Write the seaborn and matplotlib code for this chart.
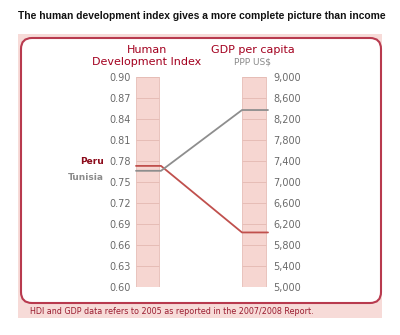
import matplotlib
matplotlib.use("Agg")
import matplotlib.pyplot as plt
from matplotlib.patches import FancyBboxPatch, Rectangle
import numpy as np
import pandas as pd
import seaborn as sns

# ---- data ----
countries = ["Peru", "Tunisia"]
hdi_values = [0.773, 0.766]
gdp_values = [6039, 8371]
hdi_ticks = [0.60, 0.63, 0.66, 0.69, 0.72, 0.75, 0.78, 0.81, 0.84, 0.87, 0.90]
gdp_ticks = [5000, 5400, 5800, 6200, 6600, 7000, 7400, 7800, 8200, 8600, 9000]
title = "The human development index gives a more complete picture than income"
footer = "HDI and GDP data refers to 2005 as reported in the 2007/2008 Report."

sns.set_theme(style="white")
plt.rcParams['font.family'] = ['DejaVu Sans']

W, H = 400, 335
fig = plt.figure(figsize=(W / 100, H / 100), dpi=100)
fig.patch.set_facecolor("white")

# background decoration axes in pixel coordinates
bg = fig.add_axes([0, 0, 1, 1])
bg.set_xlim(0, W)
bg.set_ylim(H, 0)
bg.axis("off")
bg.add_patch(Rectangle((18, 34), 364, 284, facecolor="#f7dbd8", edgecolor="none"))
bg.add_patch(FancyBboxPatch((21, 38), 360, 265,
                            boxstyle="round,pad=0,rounding_size=11",
                            facecolor="white", edgecolor="#b83a4e", linewidth=1.5))
bg.text(18, 16, title, ha="left", va="center", fontsize=7.4,
        fontweight="bold", family="Liberation Sans", color="#111111")
bg.text(30, 311, footer, ha="left", va="center", fontsize=5.8, color="#9a1c30")
hdr = "#a3001f"
bg.text(147, 50, "Human", ha="center", va="center", fontsize=8, color=hdr)
bg.text(147, 62, "Development Index", ha="center", va="center", fontsize=8, color=hdr)
bg.text(253, 50, "GDP per capita", ha="center", va="center", fontsize=8, color=hdr)
bg.text(253, 62, "PPP US$", ha="center", va="center", fontsize=6.5, color="#8a8a8a")
bg.text(104, 161, "Peru", ha="right", va="center", fontsize=6.5,
        fontweight="bold", color="#8b0a1a")
bg.text(104, 177, "Tunisia", ha="right", va="center", fontsize=6.5,
        fontweight="bold", color="#8c8c8c")

# main axes: x in pixels, y in HDI units
y0, y1 = 287, 77
ax = fig.add_axes([0, (H - y0) / H, 1, (y0 - y1) / H])
ax.set_facecolor("none")
ax.set_xlim(0, W)
hmin, hmax = hdi_ticks[0], hdi_ticks[-1]
gmin, gmax = gdp_ticks[0], gdp_ticks[-1]
ax.set_ylim(hmin, hmax)

bar_fill = "#f6d6d1"
bar_line = "#e6bdb6"
hx0, hx1 = 136, 159
gx0, gx1 = 242, 266
ax.bar([(hx0 + hx1) / 2], [hmax - hmin], bottom=hmin, width=hx1 - hx0,
       color=bar_fill, edgecolor=bar_line, linewidth=0.6, zorder=1)
ax.bar([(gx0 + gx1) / 2], [hmax - hmin], bottom=hmin, width=gx1 - gx0,
       color=bar_fill, edgecolor=bar_line, linewidth=0.6, zorder=1)


def g2h(g):
    return hmin + (np.asarray(g, dtype=float) - gmin) / (gmax - gmin) * (hmax - hmin)


ax.hlines(hdi_ticks, hx0, hx1, color=bar_line, linewidth=0.7, zorder=2)
ax.hlines(g2h(gdp_ticks), gx0, gx1, color=bar_line, linewidth=0.7, zorder=2)

rows = []
for c, h, g in zip(countries, hdi_values, gdp_values):
    gh = float(g2h(g))
    for order, (x, y) in enumerate([(hx0, h), (hx1 + 2, h), (gx0, gh), (gx1 + 2, gh)]):
        rows.append({"country": c, "x": x, "y": y, "order": order})
df = pd.DataFrame(rows)
sns.lineplot(data=df, x="x", y="y", hue="country", sort=False, estimator=None,
             palette={"Peru": "#c0504d", "Tunisia": "#8e8e8e"},
             linewidth=1.3, legend=False, ax=ax, zorder=3)

ax.set_xlabel("")
ax.set_ylabel("")
ax.set_xticks([])
for s in ax.spines.values():
    s.set_visible(False)
ax.spines["left"].set_position(("data", hx0))
ax.set_yticks(hdi_ticks)
ax.set_yticklabels([f"{t:.2f}" for t in hdi_ticks])
ax.tick_params(axis="y", length=0, pad=3.6, labelsize=7, labelcolor="#6a6a6a")

ax2 = ax.twinx()
ax2.set_ylim(gmin, gmax)
for s in ax2.spines.values():
    s.set_visible(False)
ax2.spines["right"].set_position(("data", gx1))
ax2.set_yticks(gdp_ticks)
ax2.set_yticklabels([f"{t:,}" for t in gdp_ticks])
ax2.tick_params(axis="y", length=0, pad=5, labelsize=7, labelcolor="#6a6a6a")
ax2.grid(False)
ax.grid(False)

fig.savefig("out.png", dpi=100)
